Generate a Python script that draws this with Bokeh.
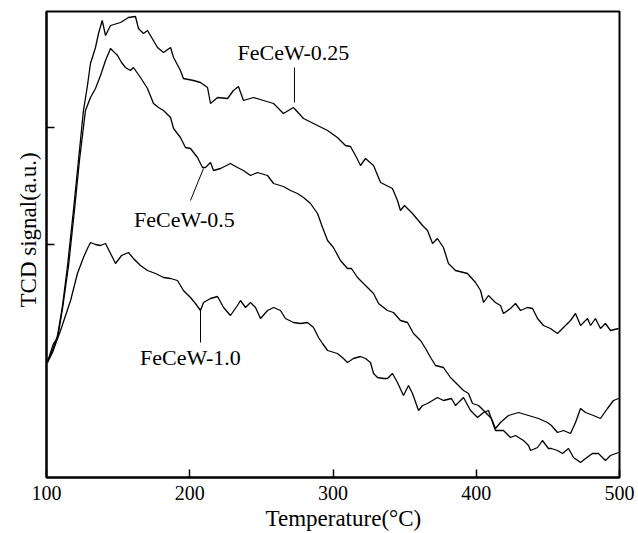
from bokeh.plotting import figure
from bokeh.models import Range1d, FixedTicker, Title
from bokeh.core.properties import value
from bokeh.embed import file_html
from bokeh.resources import INLINE

# ---- data (temperature in C, TCD signal in arbitrary units) ----
temp_025 = [100.7, 104.2, 107.7, 111.2, 114.7, 118.8, 122.3, 125.8, 128.6, 130.7, 134.2, 136.3, 138.9,
            141.2, 144.7, 151.7, 157.2, 162.1, 164.2, 167.7, 170.5, 177.5, 181.7, 186.6, 188.7, 193.5,
            195.6, 202.6, 207.5, 212.4, 214.5, 219.4, 226.4, 230.5, 234.0, 237.5, 244.5, 251.5, 258.5,
            265.4, 272.4, 279.4, 289.2, 296.2, 303.1, 308.7, 312.2, 315.7, 319.2, 322.7, 328.3, 333.2,
            341.5, 345.0, 347.1, 349.9, 355.5, 362.5, 366.0, 369.5, 372.9, 377.1, 380.6, 385.5, 393.9,
            399.5, 403.0, 405.1, 408.5, 413.4, 416.9, 419.0, 423.9, 427.4, 430.9, 435.8, 439.3, 442.8,
            446.9, 451.8, 456.7, 460.2, 465.8, 469.3, 472.8, 477.7, 479.8, 483.2, 486.7, 490.2, 493.7, 499.3]
sig_025 = [117, 127, 142, 172, 212, 267, 317, 367, 392, 414, 430, 444, 457,
           442, 452, 455, 460, 461, 449, 444, 447, 430, 425, 430, 420, 407,
           399, 397, 395, 390, 374, 380, 379, 387, 391, 377, 380, 377, 374,
           364, 370, 359, 352, 347, 340, 332, 331, 322, 312, 319, 312, 295,
           289, 277, 267, 272, 264, 252, 247, 234, 239, 230, 214, 207, 204,
           195, 187, 175, 182, 175, 172, 164, 169, 174, 167, 170, 169, 159,
           152, 149, 144, 149, 157, 164, 152, 159, 152, 159, 149, 154, 147, 149]

temp_05 = [100.7, 104.2, 107.7, 111.2, 115.4, 119.5, 123.0, 127.2, 130.7, 134.2, 137.7, 141.2, 144.7,
           149.6, 152.4, 155.1, 158.6, 160.7, 165.6, 170.5, 174.7, 178.2, 181.7, 186.6, 188.7, 193.5,
           197.0, 200.5, 205.4, 208.9, 211.0, 214.5, 216.6, 221.5, 228.4, 233.3, 237.5, 242.4, 247.3,
           254.3, 258.5, 265.4, 270.3, 275.2, 279.4, 284.3, 289.2, 292.7, 296.2, 300.3, 305.2, 310.1,
           312.9, 317.1, 322.7, 328.3, 331.8, 338.0, 342.2, 347.1, 352.0, 356.2, 361.1, 364.6, 368.1,
           371.6, 377.1, 382.0, 385.5, 391.1, 394.6, 397.4, 401.6, 406.5, 410.6, 413.4, 416.9, 422.5,
           429.5, 436.5, 443.5, 449.7, 452.5, 456.7, 460.9, 465.8, 469.3, 472.8, 476.3, 481.8, 486.7,
           491.6, 495.8, 499.3]
sig_05 = [115, 125, 139, 169, 212, 267, 317, 367, 380, 389, 402, 417, 429,
          422, 415, 410, 407, 410, 400, 389, 374, 370, 367, 360, 349, 340,
          330, 329, 320, 310, 310, 315, 307, 309, 314, 310, 307, 302, 305,
          302, 294, 291, 287, 284, 280, 274, 264, 250, 237, 230, 217, 209,
          209, 200, 192, 184, 174, 167, 165, 157, 155, 144, 137, 129, 120,
          112, 110, 100, 95, 87, 84, 74, 72, 65, 59, 49, 55, 62,
          65, 62, 59, 55, 52, 45, 47, 44, 55, 69, 65, 62, 59,
          69, 77, 79]

temp_10 = [100.7, 102.8, 104.9, 107.7, 109.8, 113.3, 116.8, 121.6, 125.8, 128.6, 130.7, 134.2, 137.7,
           141.2, 144.7, 148.2, 152.4, 157.2, 160.7, 165.6, 170.5, 176.1, 181.7, 186.6, 191.4, 195.6,
           200.5, 204.0, 207.5, 209.6, 214.5, 219.4, 223.6, 228.4, 233.3, 235.4, 238.9, 242.4, 245.9,
           249.4, 254.3, 258.5, 263.3, 266.8, 272.4, 277.3, 282.2, 286.4, 289.9, 292.7, 296.2, 303.1,
           307.3, 310.1, 314.3, 319.2, 322.7, 326.2, 328.3, 331.1, 335.3, 338.0, 341.5, 345.0, 349.2,
           352.7, 355.5, 359.7, 362.5, 366.0, 372.9, 377.1, 382.7, 385.5, 391.1, 396.0, 400.9, 405.1,
           408.5, 413.4, 419.0, 423.9, 427.4, 433.0, 436.5, 437.9, 442.8, 446.2, 450.4, 452.5, 456.7,
           460.2, 464.4, 467.9, 472.8, 476.3, 481.1, 485.3, 490.2, 493.7, 499.3]
sig_10 = [115, 125, 134, 139, 147, 162, 177, 204, 220, 229, 235, 233, 232,
          234, 224, 214, 222, 225, 219, 212, 207, 204, 200, 199, 197, 187,
          180, 174, 167, 175, 179, 181, 170, 162, 172, 177, 170, 175, 170,
          159, 167, 170, 167, 159, 155, 154, 155, 150, 140, 134, 127, 124,
          119, 115, 119, 121, 119, 115, 104, 100, 99, 99, 104, 95, 82,
          92, 84, 67, 72, 74, 80, 77, 79, 72, 80, 67, 60, 65,
          67, 47, 47, 40, 42, 37, 32, 27, 30, 37, 29, 29, 27,
          24, 29, 20, 15, 19, 24, 24, 17, 22, 25]

x_ticks = [100, 200, 300, 400, 500]
y_ticks = [233, 350]

series_names = ["FeCeW-0.25", "FeCeW-0.5", "FeCeW-1.0"]
label_x = [272.4, 196.3, 200.5]
label_y = [425, 258, 120]
pointer_x0 = [273.1, 200.5, 207.5]
pointer_y0 = [410, 277, 169]
pointer_x1 = [273.1, 209.6, 207.5]
pointer_y1 = [375, 309, 135]

FONT = "Liberation Serif"

p = figure(width=638, height=533, x_range=Range1d(100, 500), y_range=Range1d(0, 466),
           output_backend="svg", toolbar_location=None,
           min_border_left=46, min_border_right=19, min_border_top=11, min_border_bottom=56)
p.background_fill_color = "white"
p.border_fill_color = "white"
p.xgrid.visible = False
p.ygrid.visible = False
p.outline_line_color = "black"
p.outline_line_width = 2
p.outline_line_alpha = 1

for xs, ys in [(temp_025, sig_025), (temp_05, sig_05), (temp_10, sig_10)]:
    p.line(xs, ys, line_color="black", line_width=1.3)

p.segment(x0=pointer_x0, y0=pointer_y0, x1=pointer_x1, y1=pointer_y1,
          line_color="black", line_width=1)
p.text(x=label_x, y=label_y, text=series_names, text_font=value(FONT),
       text_font_size="22px", text_color="black", text_align="center", text_baseline="middle")

# x axis
xa = p.xaxis[0]
xa.ticker = FixedTicker(ticks=x_ticks)
xa.axis_line_width = 2
xa.major_tick_in = 8
xa.major_tick_out = 0
xa.major_tick_line_width = 1.5
xa.minor_tick_line_color = None
xa.major_label_standoff = 8
xa.major_label_text_font = FONT
xa.major_label_text_font_size = "20px"
xa.major_label_text_color = "black"

# y axis
ya = p.yaxis[0]
ya.ticker = FixedTicker(ticks=y_ticks)
ya.major_label_overrides = {t: "" for t in y_ticks}
ya.axis_line_width = 2
ya.major_tick_in = 8
ya.major_tick_out = 0
ya.major_tick_line_width = 1.5
ya.minor_tick_line_color = None
ya.major_label_standoff = 0

ytitle = Title(text="TCD signal(a.u.)", align="left", offset=170, standoff=12,
               text_font=FONT, text_font_size="23px", text_font_style="normal", text_color="black")
p.add_layout(ytitle, "left")
xtitle = Title(text="Temperature(\u00b0C)", align="left", offset=219, standoff=2,
               text_font=FONT, text_font_size="23px", text_font_style="normal", text_color="black")
p.add_layout(xtitle, "below")

open("out.html", "w").write(file_html(p, INLINE))
